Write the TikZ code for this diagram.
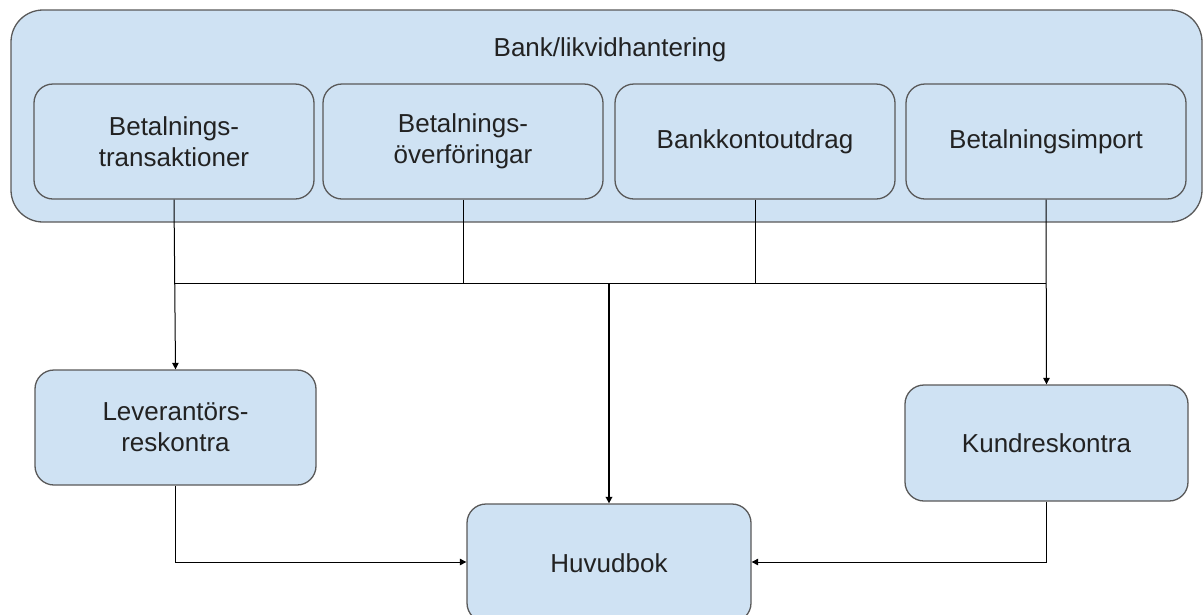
\documentclass[tikz,border=0pt]{standalone}
\usepackage{fontspec}
\setmainfont{Liberation Sans}
\usetikzlibrary{arrows.meta}
\definecolor{boxfill}{HTML}{CFE2F3}
\definecolor{boxline}{HTML}{595959}
\definecolor{txt}{HTML}{222222}
\begin{document}
\begin{tikzpicture}[x=1pt,y=-1pt,
  every node/.style={font=\fontsize{26}{31}\selectfont, text=txt, align=center},
  group/.style={draw=boxline, line width=1.3pt, fill=boxfill, rounded corners=32pt,
    minimum width=1191pt, minimum height=212pt, inner sep=0pt},
  unit/.style={draw=boxline, line width=1.3pt, fill=boxfill, rounded corners=19pt,
    minimum width=280pt, minimum height=115pt, inner sep=0pt},
  link/.style={draw=black, line width=1pt},
  feed/.style={link, -{Triangle[length=6.5pt,width=6.5pt]}},
  mainfeed/.style={feed, line width=2pt}]
\useasboundingbox (0,0) rectangle (1203,614);
\clip (0,0) rectangle (1203,614);

% bank / liquidity group
\node[group] (bank) at (606.5,116) {};
\node (banktitle) at (610,50) {Bank/likvidhantering};
\node[unit] (b1) at (174,141.5) {Betalnings-\\transaktioner};
\node[unit] (b2) at (463,141.5) {Betalnings-\\överföringar};
\node[unit] (b3) at (755,141.5) {Bankkontoutdrag};
\node[unit] (b4) at (1046,141.5) {Betalningsimport};

% ledgers
\node[unit, minimum width=281pt] (lev) at (175.5,427.5) {Leverantörs-\\reskontra};
\node[unit, minimum width=283pt, minimum height=116pt] (kund) at (1046.5,443) {Kundreskontra};
\node[unit, minimum width=284pt, minimum height=118pt] (huv) at (609,563) {Huvudbok};

% collecting bus below the bank group
\coordinate (bus) at (0,283);
\coordinate (hrow) at (0,562);

\draw[link] (b1.south |- bus) -- (b4.south |- bus);
\draw[link] (b2.south) -- (b2.south |- bus);
\draw[link] (b3.south) -- (b3.south |- bus);
\draw[feed] (b1.south) -- (lev.north);
\draw[feed] (b4.south) -- (kund.north);
\draw[mainfeed] (huv.north |- bus) -- (huv.north);

% ledgers into the general ledger
\draw[feed] (lev.south) |- (huv.west |- hrow);
\draw[feed] (kund.south) |- (huv.east |- hrow);
\end{tikzpicture}
\end{document}
